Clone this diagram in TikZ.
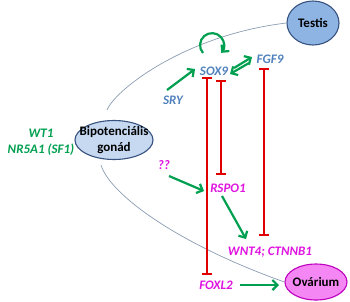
\documentclass[tikz,border=0pt]{standalone}
\usepackage{fontspec}
\setmainfont{Carlito}
\usetikzlibrary{arrows.meta,shapes.geometric}
\definecolor{ggreen}{RGB}{0,160,80}
\definecolor{gblue}{RGB}{79,129,189}
\definecolor{gmag}{RGB}{224,20,224}
\definecolor{gred}{RGB}{225,0,0}
\definecolor{curvegray}{RGB}{140,158,180}
\definecolor{testisfill}{RGB}{142,180,227}
\definecolor{gonadfill}{RGB}{198,217,241}
\definecolor{ovfill}{RGB}{245,135,245}
\definecolor{bluedge}{RGB}{56,83,128}
\definecolor{magedge}{RGB}{190,0,190}
\begin{document}
\begin{tikzpicture}[x=1pt,y=-1pt,
  gene/.style={font=\bfseries\itshape\fontsize{13}{15}\selectfont, inner sep=0pt},
  organ/.style={ellipse, draw, line width=1.1pt, inner sep=-20pt,
     font=\bfseries\fontsize{13}{16}\selectfont, align=center},
  act/.style={draw=ggreen, line width=2.2pt, -{Straight Barb[length=5pt,width=10pt]}},
  inh/.style={draw=gred, line width=2pt, {Bar[width=10pt]}-{Bar[width=10pt]}},
  flow/.style={draw=curvegray, line width=0.7pt}]
\useasboundingbox (0,0) rectangle (350,301);
\fill[white] (0,0) rectangle (350,301);

% organs
\node[organ, fill=testisfill, draw=bluedge, minimum width=52pt, minimum height=44pt] (testis) at (313,23) {Testis};
\node[organ, fill=gonadfill, draw=bluedge, minimum width=78pt, minimum height=39pt] (gonad) at (114,140) {Bipotenciális\\gonád};
\node[organ, fill=ovfill, draw=magedge, minimum width=62pt, minimum height=36pt] (ovarium) at (316,282) {Ovárium};

% genes
\node[gene, text=ggreen] (wt1) at (41,133) {WT1};
\node[gene, text=ggreen] (nr5a1) at (41,150) {NR5A1 (SF1)};
\node[gene, text=gblue] (sry) at (173,100) {SRY};
\node[gene, text=gblue] (sox9) at (214,71) {SOX9};
\node[gene, text=gblue] (fgf9) at (270,59) {FGF9};
\node[gene, text=gmag] (qq) at (164,165) {??};
\node[gene, text=gmag] (rspo1) at (228,188) {RSPO1};
\node[gene, text=gmag] (wnt4) at (270,252) {WNT4; CTNNB1};
\node[gene, text=gmag] (foxl2) at (216,285) {FOXL2};

% gray developmental curves
\coordinate (gtop) at (107,110);
\coordinate (gbot) at (101,165);
\draw[flow] (gtop) .. controls (115,90) and (185,35) .. (testis.west);
\draw[flow] (gbot) .. controls (110,195) and (180,245) .. (ovarium.west);

% activations
\coordinate (sryS) at (167,90);
\coordinate (sryE) at (195,69);
\draw[act] (sryS) -- (sryE);
\coordinate (loopS) at (203,53);
\draw[draw=ggreen, line width=2.2pt, -{Straight Barb[length=5pt,width=10pt]}]
  (loopS) arc[start angle=139, end angle=400, radius=12];
\coordinate (sfA) at (234,68);
\coordinate (sfB) at (252,57);
\coordinate (fsA) at (249,63);
\coordinate (fsB) at (230,74);
\draw[act] (sfA) -- (sfB);
\draw[act] (fsA) -- (fsB);
\coordinate (qqS) at (169,176);
\coordinate (qqE) at (204,191);
\draw[act] (qqS) -- (qqE);
\coordinate (rsS) at (222,196);
\coordinate (rsE) at (246,239);
\draw[act] (rsS) -- (rsE);
\coordinate (foS) at (240,285);
\coordinate (foE) at (279,285);
\draw[act] (foS) -- (foE);

% inhibitions
\coordinate (i1a) at (207,77);
\coordinate (i1b) at (207,275);
\draw[inh] (i1a) -- (i1b);
\coordinate (i2a) at (221,80);
\coordinate (i2b) at (221,175);
\draw[inh] (i2a) -- (i2b);
\coordinate (i3a) at (264,68);
\coordinate (i3b) at (264,236);
\draw[inh] (i3a) -- (i3b);
\end{tikzpicture}
\end{document}
